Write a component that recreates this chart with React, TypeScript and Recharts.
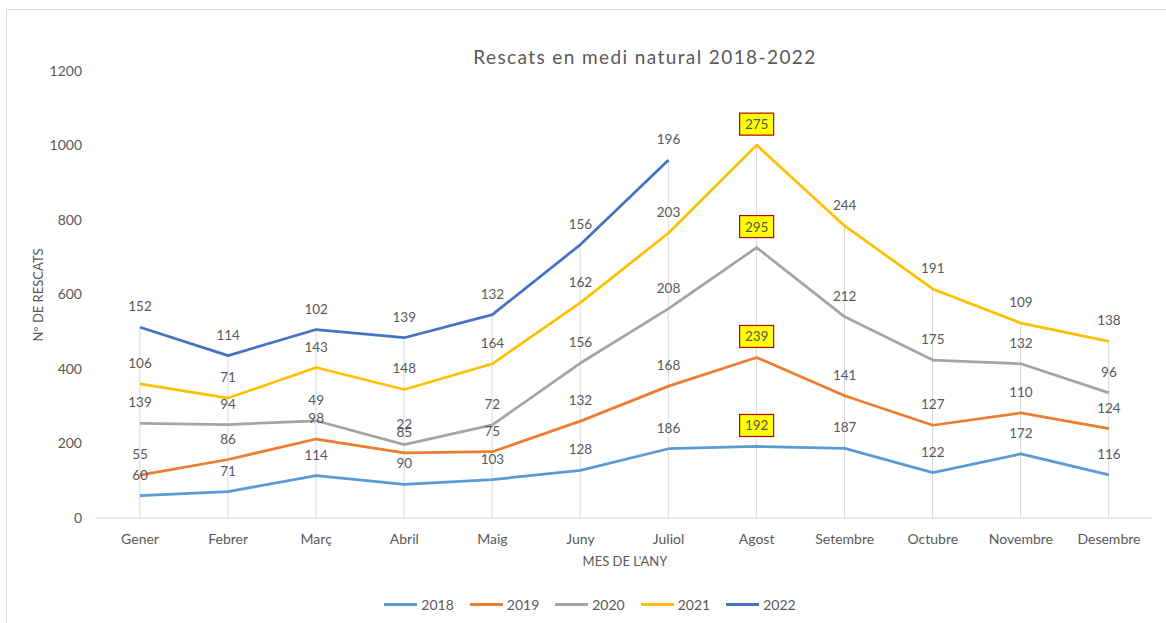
import React from 'react';
import { ComposedChart, Line, Bar, XAxis, YAxis, LabelList } from 'recharts';

const months = ['Gener', 'Febrer', 'Març', 'Abril', 'Maig', 'Juny', 'Juliol', 'Agost', 'Setembre', 'Octubre', 'Novembre', 'Desembre'];

const v2018 = [60, 71, 114, 90, 103, 128, 186, 192, 187, 122, 172, 116];
const v2019 = [55, 86, 98, 85, 75, 132, 168, 239, 141, 127, 110, 124];
const v2020 = [139, 94, 49, 22, 72, 156, 208, 295, 212, 175, 132, 96];
const v2021 = [106, 71, 143, 148, 164, 162, 203, 275, 244, 191, 109, 138];
const v2022 = [152, 114, 102, 139, 132, 156, 196];

const yTicks = [0, 200, 400, 600, 800, 1000, 1200];
const highlightMonth = 'Agost';

const series = [
  { key: '2018', values: v2018, color: '#5B9BD5' },
  { key: '2019', values: v2019, color: '#ED7D31' },
  { key: '2020', values: v2020, color: '#A5A5A5' },
  { key: '2021', values: v2021, color: '#FFC000' },
  { key: '2022', values: v2022, color: '#4472C4' },
];

// stacked line: each line sits on top of the previous years
const data = months.map((m, i) => {
  const row: any = { month: m };
  let sum = 0;
  series.forEach((s) => {
    const v = s.values[i];
    if (v == null) return;
    sum += v;
    row['c' + s.key] = sum;
    row['r' + s.key] = v;
  });
  row.top = sum;
  return row;
});

const textColor = '#595959';
const font = 'Lato, "Open Sans", sans-serif';

const DropLine = (props: any) => {
  const { x, y, width, height } = props;
  const cx = x + width / 2;
  return <line x1={cx} x2={cx} y1={y} y2={y + height} stroke="#d9d9d9" strokeWidth={1} />;
};

const makeLabel = (key: string) => (props: any) => {
  const { x, y, value, index } = props;
  if (value == null) return null;
  const boxed = data[index].month === highlightMonth;
  const ly = y - 21;
  return (
    <g>
      {boxed && (
        <rect x={x - 17} y={ly - 11} width={34} height={22} fill="#FFFF00" stroke="#C00000" strokeWidth={1.2} />
      )}
      <text x={x} y={ly} textAnchor="middle" dominantBaseline="central" fontSize={13.5} fill={textColor} fontFamily={font}>
        {value}
      </text>
    </g>
  );
};

export default function App() {
  return (
    <div style={{ position: 'absolute', left: 0, top: 0, width: 1166, height: 623, background: '#fff', fontFamily: font, overflow: 'hidden' }}>
      <div style={{ position: 'absolute', left: 6, top: 9, width: 1200, height: 700, borderLeft: '1px solid #d9d9d9', borderTop: '1px solid #d9d9d9' }} />
      <div style={{ position: 'absolute', left: 445, top: 45, width: 400, textAlign: 'center', fontSize: 19, letterSpacing: 1.4, color: textColor }}>
        Rescats en medi natural 2018-2022
      </div>
      <div style={{ position: 'absolute', left: 38, top: 295, transform: 'translate(-50%, -50%) rotate(-90deg)', whiteSpace: 'nowrap', fontSize: 13, color: textColor }}>
        Nº DE RESCATS
      </div>
      <div style={{ position: 'absolute', left: 525, top: 553, width: 200, textAlign: 'center', fontSize: 13, color: textColor }}>
        MES DE L'ANY
      </div>
      <div style={{ position: 'absolute', left: 0, top: 596, width: 1180, display: 'flex', justifyContent: 'center', gap: 16, fontSize: 14, color: textColor }}>
        {series.map((s) => (
          <div key={s.key} style={{ display: 'flex', alignItems: 'center' }}>
            <div style={{ width: 33, height: 3, background: s.color, marginRight: 4 }} />
            <span>{s.key}</span>
          </div>
        ))}
      </div>
      <div style={{ position: 'absolute', left: 0, top: 0 }}>
        <ComposedChart width={1166} height={623} data={data} margin={{ top: 71, right: 13, bottom: 75, left: 0 }}>
          <XAxis
            dataKey="month"
            axisLine={{ stroke: '#d9d9d9' }}
            tickLine={false}
            tickMargin={10}
            tick={{ fill: textColor, fontSize: 14, fontFamily: font }}
            interval={0}
            height={30}
          />
          <YAxis
            domain={[0, 1200]}
            ticks={yTicks}
            axisLine={false}
            tickLine={false}
            tickMargin={8}
            width={96}
            tick={{ fill: textColor, fontSize: 14, fontFamily: font }}
          />
          <Bar dataKey="top" shape={DropLine} isAnimationActive={false} />
          {series.map((s) => (
            <Line
              key={s.key}
              dataKey={'c' + s.key}
              stroke={s.color}
              strokeWidth={2.75}
              dot={false}
              activeDot={false}
              strokeLinejoin="round"
              isAnimationActive={false}
            >
              <LabelList dataKey={'r' + s.key} content={makeLabel(s.key)} />
            </Line>
          ))}
        </ComposedChart>
      </div>
    </div>
  );
}
